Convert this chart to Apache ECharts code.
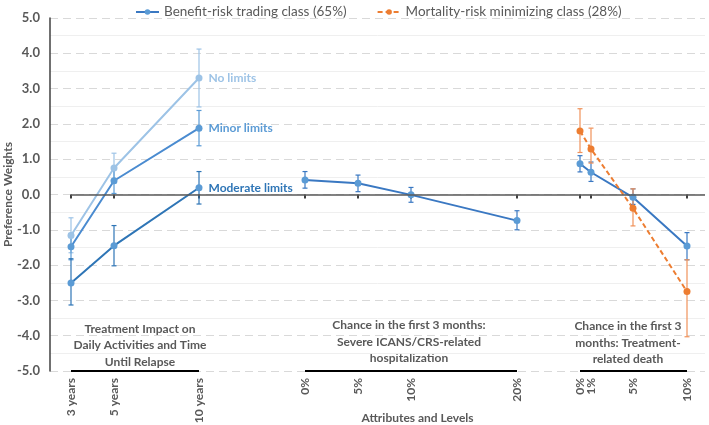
<!DOCTYPE html>
<html style="height: 100%">
<head>
  <meta charset="utf-8">
  <title>Preference weights by latent class</title>
  <script src="https://cdn.jsdelivr.net/npm/echarts@6.0.0/dist/echarts.min.js"></script>
</head>
<body style="margin:0;height:100%">
  <div id="main" style="width:709px;height:425px"></div>
  <script>
    // level labels and where each level sits on the (hidden) x scale
    var timeLevels = ['3 years', '5 years', '10 years'];
    var timePos = [21, 64, 149];
    var hospLevels = ['0%', '5%', '10%', '20%'];
    var hospPos = [255, 308, 361, 467];
    var deathLevels = ['0%', '1%', '5%', '10%'];
    var deathPos = [530, 541, 583, 637];
    var xMax = 655;

    // benefit-risk trading class (65%)
    var noLimits = [-1.16, 0.75, 3.30];
    var noLimitsCI = [[-1.65, -0.66], [0.32, 1.17], [2.48, 4.12]];
    var minorLimits = [-1.48, 0.39, 1.88];
    var minorLimitsCI = [[-1.85, -1.10], [0.03, 0.76], [1.38, 2.38]];
    var moderateLimits = [-2.51, -1.45, 0.19];
    var moderateLimitsCI = [[-3.13, -1.82], [-2.02, -0.88], [-0.27, 0.65]];
    var hospBR = [0.41, 0.32, -0.01, -0.74];
    var hospBRCI = [[0.18, 0.65], [0.08, 0.55], [-0.22, 0.20], [-1.00, -0.46]];
    var deathBR = [0.87, 0.63, -0.08, -1.46];
    var deathBRCI = [[0.64, 1.10], [0.37, 0.92], [-0.28, 0.16], [-1.85, -1.08]];

    // mortality-risk minimizing class (28%)
    var deathMR = [1.80, 1.29, -0.39, -2.75];
    var deathMRCI = [[1.19, 2.43], [0.89, 1.88], [-0.89, 0.16], [-4.03, -1.85]];

    var BR = 'Benefit-risk trading class (65%)';
    var MR = 'Mortality-risk minimizing class (28%)';
    var gray = '#595959';
    var font = 'Lato';

    var tickLabels = {};
    [[timePos, timeLevels], [hospPos, hospLevels], [deathPos, deathLevels]].forEach(function (g) {
      g[0].forEach(function (p, i) { tickLabels[p] = g[1][i]; });
    });
    var allPos = timePos.concat(hospPos, deathPos);

    function pts(pos, vals, lastLabel, labelColor) {
      return vals.map(function (v, i) {
        var d = { value: [pos[i], v] };
        if (lastLabel && i === vals.length - 1) {
          d.label = {
            show: true, position: 'right', distance: 6, formatter: lastLabel,
            color: labelColor, fontWeight: 'bold', fontSize: 12, fontFamily: font
          };
        }
        return d;
      });
    }

    function errorBars(name, pos, ci, color, z) {
      return {
        type: 'custom',
        name: name,
        z: z || 1,
        silent: true,
        data: ci.map(function (c, i) { return [pos[i], c[0], c[1]]; }),
        renderItem: function (params, api) {
          var top = api.coord([api.value(0), api.value(2)]);
          var bot = api.coord([api.value(0), api.value(1)]);
          var w = 2.5;
          var st = { stroke: color, lineWidth: 1.2 };
          return {
            type: 'group',
            children: [
              { type: 'line', shape: { x1: top[0], y1: top[1], x2: bot[0], y2: bot[1] }, style: st },
              { type: 'line', shape: { x1: top[0] - w, y1: top[1], x2: top[0] + w, y2: top[1] }, style: st },
              { type: 'line', shape: { x1: bot[0] - w, y1: bot[1], x2: bot[0] + w, y2: bot[1] }, style: st }
            ]
          };
        }
      };
    }

    function lineSeries(name, pos, vals, lineColor, markerColor, opts) {
      opts = opts || {};
      return {
        type: 'line',
        name: name,
        data: pts(pos, vals, opts.label, opts.labelColor),
        symbol: 'circle',
        symbolSize: 7,
        z: 3,
        lineStyle: { color: lineColor, width: 2, type: opts.dashed ? [5, 3] : 'solid' },
        itemStyle: { color: markerColor },
        emphasis: { disabled: true }
      };
    }

    function segment(pos) {
      return {
        type: 'line',
        name: 'axis',
        data: [[pos[0], -5], [pos[pos.length - 1], -5]],
        symbol: 'none',
        silent: true,
        z: 2,
        lineStyle: { color: '#000', width: 2 }
      };
    }

    var chart = echarts.init(document.getElementById('main'));

    var series = [
      lineSeries(BR, hospPos, hospBR, '#3A78C2', '#5B9BD5'),
      errorBars(BR, hospPos, hospBRCI, '#3A78C2'),
      lineSeries(BR, deathPos, deathBR, '#3A78C2', '#5B9BD5'),
      errorBars(BR, deathPos, deathBRCI, '#3A78C2'),
      lineSeries(MR, deathPos, deathMR, '#ED7D31', '#ED7D31', { dashed: true }),
      errorBars(MR, deathPos, deathMRCI, '#F0925A'),
      lineSeries('No limits', timePos, noLimits, '#9DC3E6', '#9DC3E6', { label: 'No limits', labelColor: '#9DC3E6' }),
      errorBars('No limits', timePos, noLimitsCI, '#9DC3E6'),
      lineSeries('Minor limits', timePos, minorLimits, '#4A8BD0', '#5B9BD5', { label: 'Minor limits', labelColor: '#5B9BD5' }),
      errorBars('Minor limits', timePos, minorLimitsCI, '#5B9BD5'),
      lineSeries('Moderate limits', timePos, moderateLimits, '#2E75B6', '#5B9BD5', { label: 'Moderate limits', labelColor: '#2E75B6' }),
      errorBars('Moderate limits', timePos, moderateLimitsCI, '#2E75B6'),
      segment(timePos),
      segment(hospPos),
      segment(deathPos)
    ];

    // zero reference line from the first level to the right edge
    series[12].markLine = {
      silent: true,
      symbol: 'none',
      label: { show: false },
      lineStyle: { color: gray, width: 1.5, type: 'solid' },
      data: [[{ coord: [timePos[0], 0] }, { coord: [xMax, 0] }]]
    };

    chart.setOption({
      animation: false,
      textStyle: { fontFamily: font },
      legend: {
        data: [BR, MR],
        top: 0,
        left: 130,
        itemWidth: 23,
        itemHeight: 7,
        itemGap: 30,
        textStyle: { color: gray, fontSize: 13.5, fontFamily: font }
      },
      grid: { left: 50, right: 4, top: 18, bottom: 54, containLabel: false, outerBoundsMode: 'none' },
      xAxis: {
        type: 'value',
        min: 0,
        max: xMax,
        name: 'Attributes and Levels',
        nameLocation: 'middle',
        nameGap: 41,
        nameMoveOverlap: false,
        nameTextStyle: { color: gray, fontWeight: 'bold', fontSize: 12, fontFamily: font, padding: [0, 0, 0, 80] },
        axisLine: { show: false },
        splitLine: { show: false },
        axisTick: {
          show: true,
          customValues: allPos,
          length: 4,
          lineStyle: { color: '#000', width: 1.5 }
        },
        axisLabel: {
          customValues: allPos,
          rotate: 90,
          margin: 7,
          color: gray,
          fontWeight: 'bold',
          fontSize: 12,
          fontFamily: font,
          formatter: function (v) { return tickLabels[v] || ''; }
        }
      },
      yAxis: {
        type: 'value',
        min: -5,
        max: 5,
        interval: 1,
        name: 'Preference Weights',
        nameLocation: 'middle',
        nameGap: 36,
        nameMoveOverlap: false,
        nameTextStyle: { color: gray, fontWeight: 'bold', fontSize: 12, fontFamily: font },
        axisLine: { show: true, lineStyle: { color: '#404040', width: 1.5 } },
        axisTick: { show: false },
        axisLabel: {
          color: gray, fontWeight: 'bold', fontSize: 13, fontFamily: font, margin: 10,
          formatter: function (v) { return v.toFixed(1); }
        },
        splitLine: { show: true, lineStyle: { color: '#D9D9D9', type: [8, 5] } },
        minorTick: { show: false, splitNumber: 2 },
        minorSplitLine: { show: true, lineStyle: { color: '#EFEFEF' } }
      },
      graphic: [
        {
          type: 'text', x: 140, y: 345.5,
          style: {
            text: 'Treatment Impact on\nDaily Activities and Time\nUntil Relapse',
            align: 'center', verticalAlign: 'middle', lineHeight: 16.5,
            font: 'bold 12px Lato', fill: gray
          }
        },
        {
          type: 'text', x: 409, y: 342,
          style: {
            text: 'Chance in the first 3 months:\nSevere ICANS/CRS-related\nhospitalization',
            align: 'center', verticalAlign: 'middle', lineHeight: 16.5,
            font: 'bold 12px Lato', fill: gray
          }
        },
        {
          type: 'text', x: 628, y: 343,
          style: {
            text: 'Chance in the first 3\nmonths: Treatment-\nrelated death',
            align: 'center', verticalAlign: 'middle', lineHeight: 16.5,
            font: 'bold 12px Lato', fill: gray
          }
        }
      ],
      series: series
    });
  </script>
</body>
</html>
